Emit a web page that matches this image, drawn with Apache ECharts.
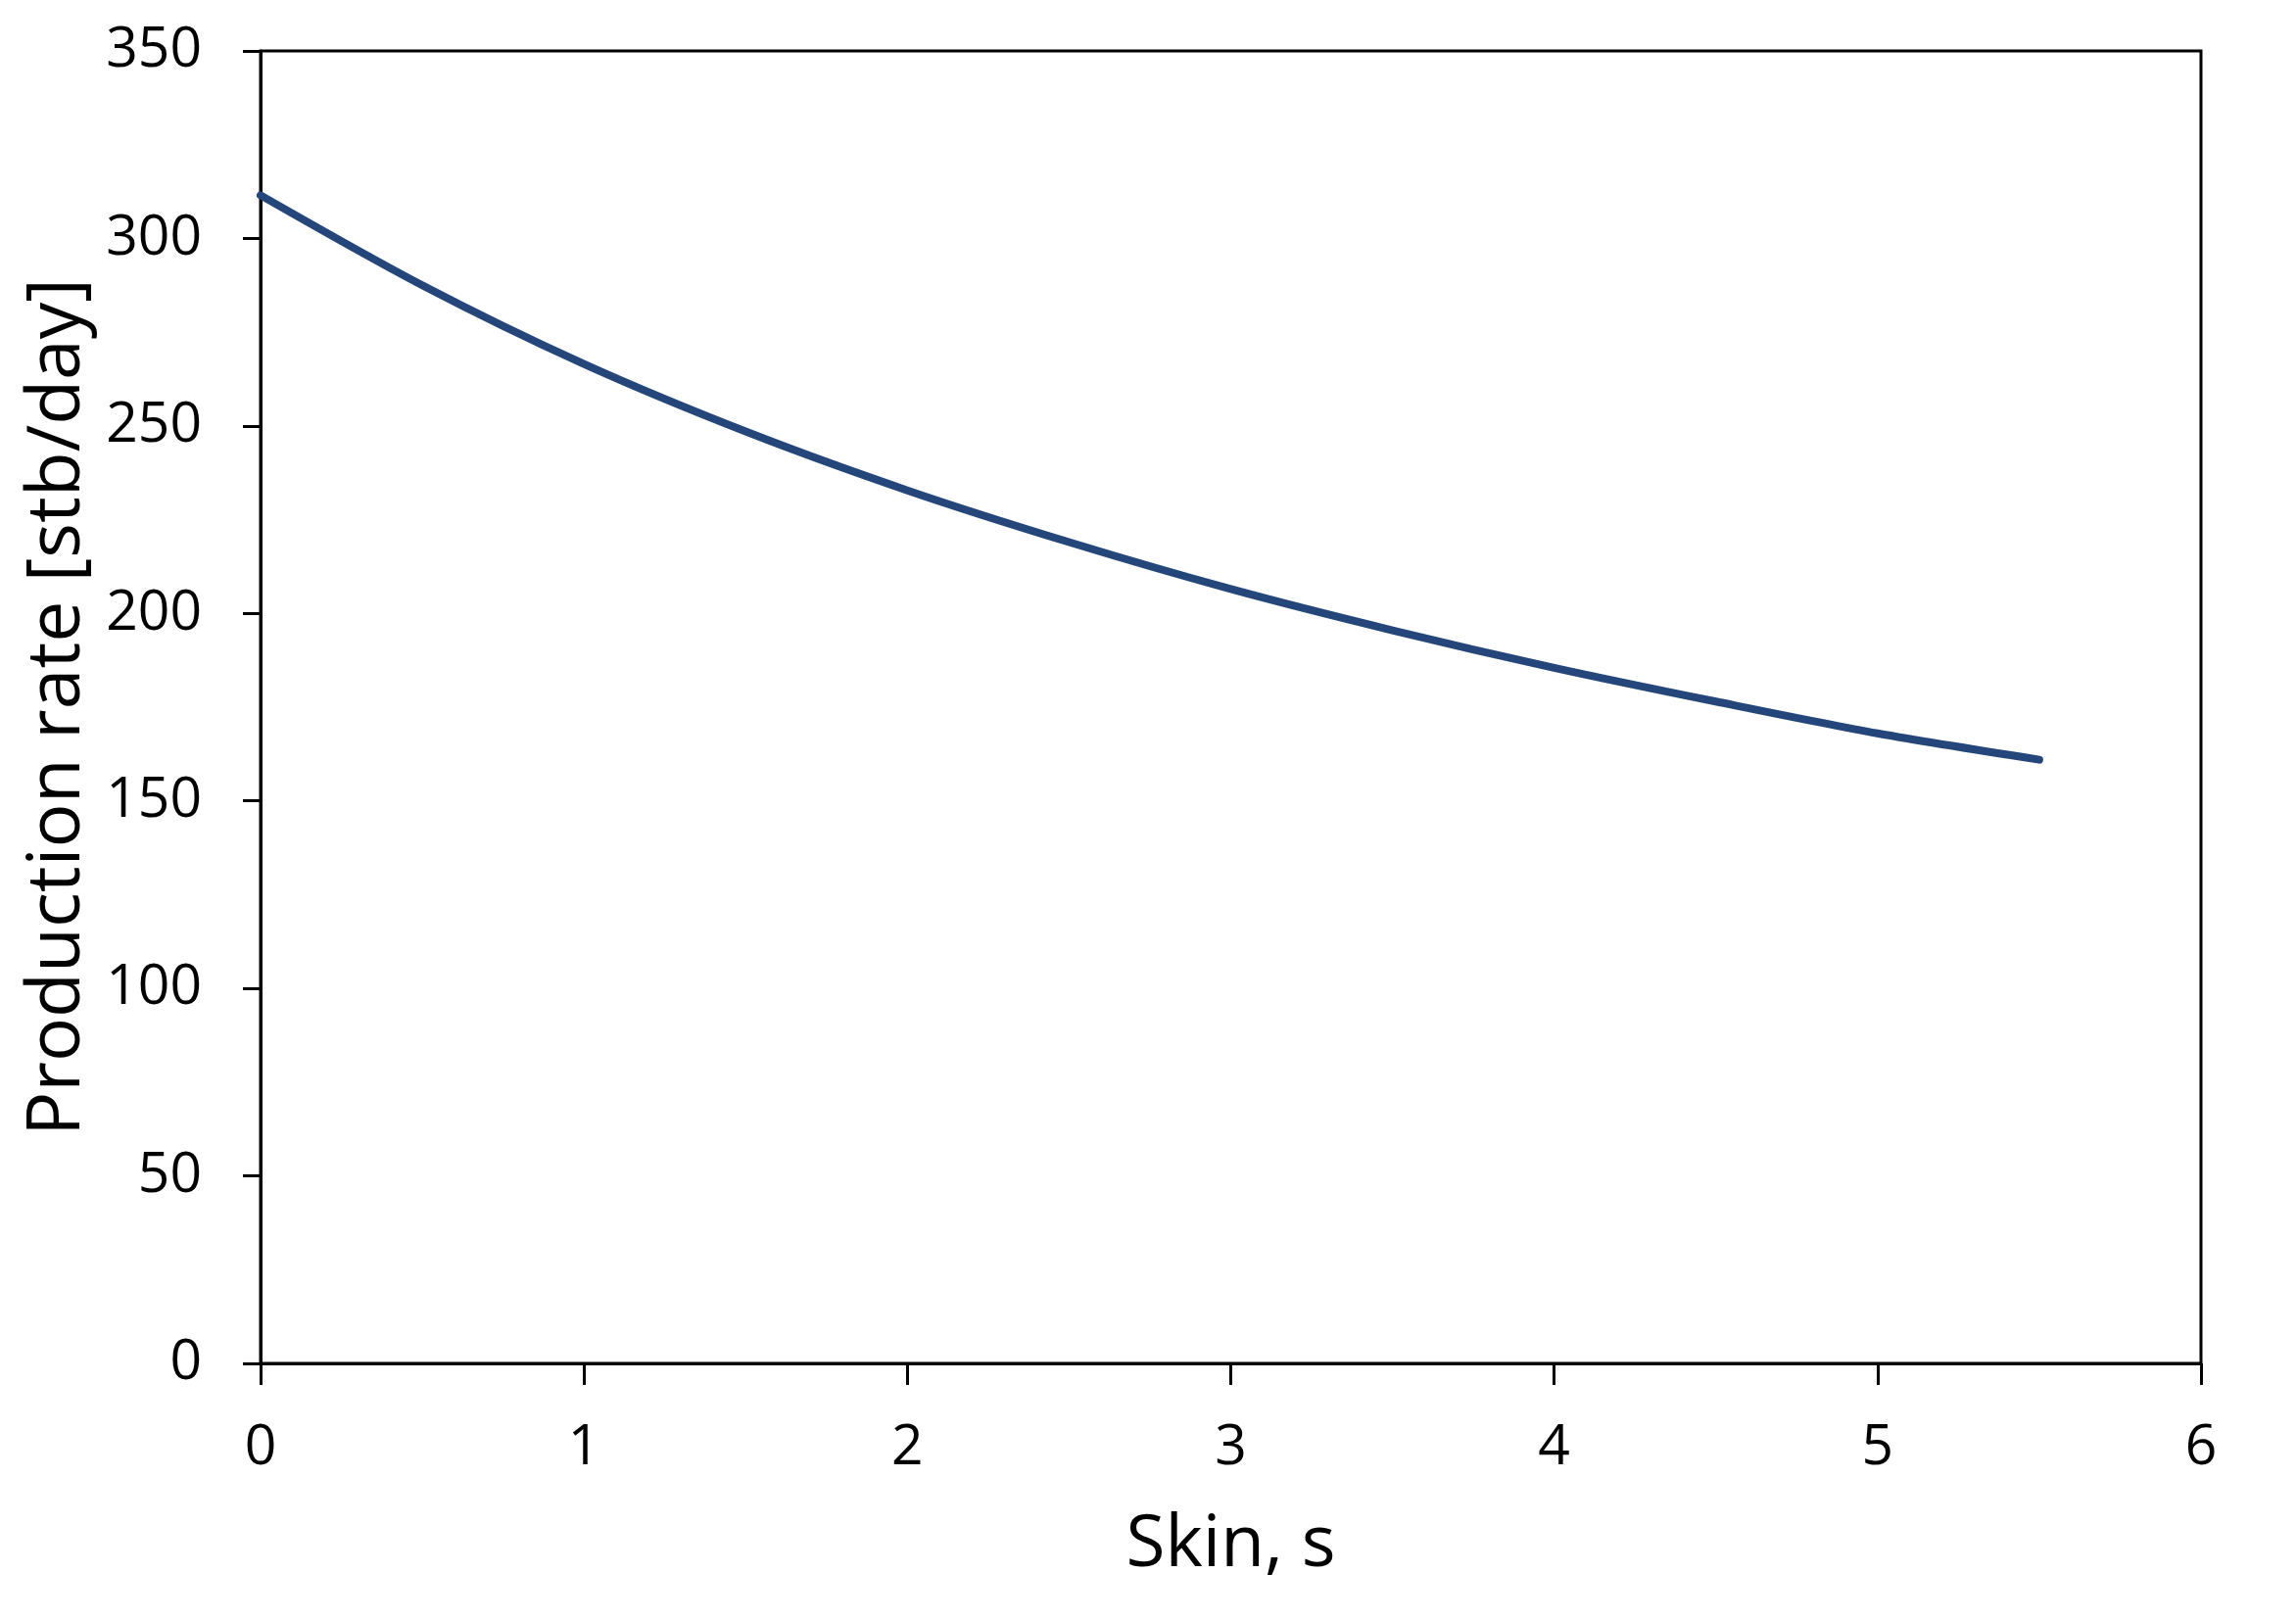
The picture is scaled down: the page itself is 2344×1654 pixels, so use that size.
<!DOCTYPE html>
<html>
<head>
<meta charset="utf-8">
<script src="https://cdn.jsdelivr.net/npm/echarts@6/dist/echarts.min.js"></script>
<style>
html,body{margin:0;padding:0;background:#fff;}
#chart{width:2344px;height:1654px;}
</style>
</head>
<body>
<div id="chart"></div>
<script>
const skin = [0, 0.5, 1, 1.5, 2, 2.5, 3, 3.5, 4, 4.5, 5, 5.5];
const rate = [311.5, 287.5, 266.5, 248.5, 232.8, 219, 206.5, 195.5, 185.5, 176.5, 168, 161];
const xTitle = 'Skin, s';
const yTitle = 'Production rate [stb/day]';

const font = '"Open Sans", "Noto Sans", sans-serif';
const chart = echarts.init(document.getElementById('chart'));
chart.setOption({
  animation: false,
  backgroundColor: '#ffffff',
  grid: {
    left: 266, right: 97, top: 52, bottom: 262,
    show: true, borderColor: '#000', borderWidth: 3, backgroundColor: 'transparent'
  },
  xAxis: {
    type: 'value', min: 0, max: 6, interval: 1,
    name: xTitle, nameLocation: 'middle', nameGap: 150,
    nameTextStyle: { fontFamily: font, fontSize: 73, color: '#000' },
    axisLine: { show: true, onZero: false, lineStyle: { color: '#000', width: 3 } },
    axisTick: { show: true, inside: false, length: 22, lineStyle: { color: '#000', width: 3 } },
    axisLabel: { fontFamily: font, fontSize: 57, color: '#000', margin: 58 },
    splitLine: { show: false }
  },
  yAxis: {
    type: 'value', min: 0, max: 350, interval: 50,
    name: yTitle, nameLocation: 'middle', nameGap: 168, nameRotate: 90,
    nameTextStyle: { fontFamily: font, fontSize: 75, color: '#000' },
    axisLine: { show: true, lineStyle: { color: '#000', width: 3 } },
    axisTick: { show: true, inside: false, length: 18, lineStyle: { color: '#000', width: 3 } },
    axisLabel: { fontFamily: font, fontSize: 57, color: '#000', margin: 60 },
    splitLine: { show: false }
  },
  series: [{
    type: 'line',
    data: skin.map((s, i) => [s, rate[i]]),
    smooth: 0.3,
    showSymbol: false,
    lineStyle: { color: '#25467A', width: 8, cap: 'round' },
    itemStyle: { color: '#25467A' }
  }]
});
</script>
</body>
</html>
